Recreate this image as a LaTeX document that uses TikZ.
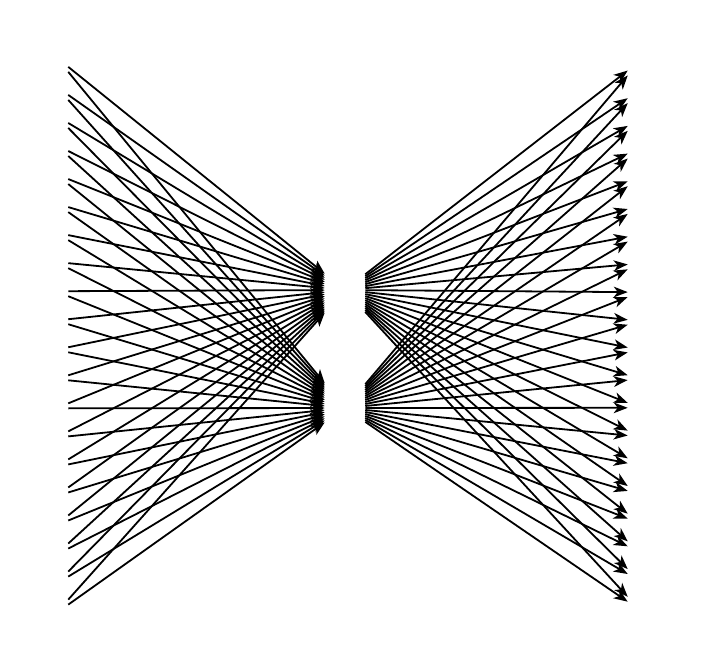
\documentclass[tikz,border=0pt]{standalone}
\usetikzlibrary{arrows.meta}
\tikzset{
  inp/.style={rectangle,minimum width=18pt,minimum height=30pt,inner sep=0pt},
  hid/.style={rectangle,minimum width=30pt,minimum height=45pt,inner sep=0pt},
  outp/.style={rectangle,minimum width=18pt,minimum height=30pt,inner sep=0pt},
  wire/.style={line width=1.35pt,-{Stealth[length=10.5pt,width=8pt,inset=3pt]}}
}
\begin{document}
\begin{tikzpicture}[x=0.75pt,y=0.75pt,yscale=-1,xscale=1]
\useasboundingbox (0,0) rectangle (701,672);
\node [hid] (h1) at (345,290) {};
\node [hid] (h2) at (345,408) {};
\foreach \i in {1,...,20}{
  \node [inp] (in\i) at (56,{57+29.28*(\i-1)}) {};
  \node [outp] (out\i) at (640,{61+28.9*(\i-1)}) {};
  \draw [wire] (in\i) -- (h1);
  \draw [wire] (in\i) -- (h2);
  \draw [wire] (h1) -- (out\i);
  \draw [wire] (h2) -- (out\i);
}
\end{tikzpicture}
\end{document}
